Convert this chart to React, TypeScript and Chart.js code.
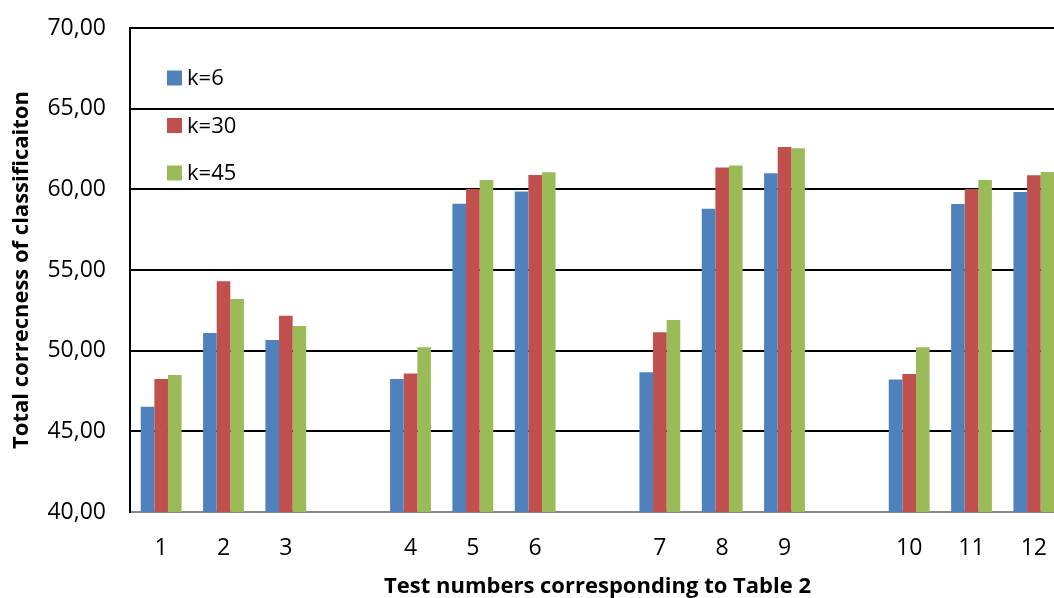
import React, { useEffect, useRef } from "react";
import { Chart, registerables } from "chart.js";

Chart.register(...registerables);

const categories = ["1", "2", "3", "", "4", "5", "6", "", "7", "8", "9", "", "10", "11", "12"];
const seriesLabels = ["k=6", "k=30", "k=45"];
const k6 = [46.53, 51.1, 50.66, null, 48.25, 59.11, 59.86, null, 48.66, 58.8, 61.0, null, 48.22, 59.09, 59.84];
const k30 = [48.25, 54.3, 52.17, null, 48.58, 60.02, 60.89, null, 51.14, 61.35, 62.63, null, 48.55, 60.02, 60.87];
const k45 = [48.49, 53.2, 51.53, null, 50.21, 60.58, 61.06, null, 51.9, 61.47, 62.55, null, 50.21, 60.58, 61.08];
const colors = ["#4F81BD", "#C0504D", "#9BBB59"];
const yMin = 40;
const yMax = 70;
const yStep = 5;
const xTitle = "Test numbers corresponding to Table 2";
const yTitle = "Total correcness of classificaiton";

const FONT = "'Open Sans', sans-serif";

const insideLegend = {
  id: "insideLegend",
  afterDraw(chart: any) {
    const ctx = chart.ctx;
    const area = chart.chartArea;
    ctx.save();
    chart.data.datasets.forEach((ds: any, i: number) => {
      const y = area.top + 50 + i * 47.5;
      ctx.fillStyle = ds.backgroundColor;
      ctx.fillRect(area.left + 37, y - 7.5, 15, 15);
      ctx.fillStyle = "#000";
      ctx.font = `22px ${FONT}`;
      ctx.textBaseline = "middle";
      ctx.textAlign = "left";
      ctx.fillText(ds.label, area.left + 57, y + 1);
    });
    ctx.restore();
  },
};

export default function App() {
  const ref = useRef<HTMLCanvasElement | null>(null);
  useEffect(() => {
    if (!ref.current) return;
    const data = [k6, k30, k45];
    const chart = new Chart(ref.current, {
      type: "bar",
      data: {
        labels: categories,
        datasets: seriesLabels.map((l, i) => ({
          label: l,
          data: data[i],
          backgroundColor: colors[i],
          borderWidth: 0,
          categoryPercentage: 0.655,
          barPercentage: 1.0,
        })),
      },
      options: {
        animation: false,
        responsive: true,
        maintainAspectRatio: false,
        layout: { padding: { top: 28, bottom: 0, left: 0, right: 0 } },
        plugins: {
          legend: { display: false },
          tooltip: { enabled: false },
        },
        scales: {
          x: {
            grid: { display: false, drawTicks: false },
            border: { display: true, color: "#888888", width: 2 },
            ticks: {
              color: "#000",
              font: { family: FONT, size: 23 },
              padding: 23,
              maxRotation: 0,
              autoSkip: false,
            },
            title: {
              display: true,
              text: xTitle,
              color: "#000",
              font: { family: FONT, size: 22, weight: "bold" },
              padding: { top: -12, bottom: -2 },
            },
          },
          y: {
            min: yMin,
            max: yMax,
            afterFit: (scale: any) => {
              scale.width = 130;
            },
            grid: {
              drawTicks: true,
              tickLength: 22,
              tickColor: "rgba(0,0,0,0)",
              color: (c: any) => (c.tick && c.tick.value === yMin ? "#888888" : "#000000"),
              lineWidth: 2,
            },
            border: { display: true, color: "#000", width: 2 },
            ticks: {
              stepSize: yStep,
              color: "#000",
              font: { family: FONT, size: 23 },
              padding: 2,
              callback: (v: any) => Number(v).toFixed(2).replace(".", ","),
            },
            title: {
              display: true,
              text: yTitle,
              color: "#000",
              font: { family: FONT, size: 22, weight: "bold" },
              padding: { top: 9, bottom: 0 },
            },
          },
        },
      },
      plugins: [insideLegend],
    });
    return () => chart.destroy();
  }, []);
  return (
    <div style={{ position: "fixed", left: 0, top: 0, width: 1054, height: 598, overflow: "hidden", background: "#fff" }}>
      <div style={{ position: "relative", width: 1070, height: 598 }}>
        <canvas ref={ref} />
      </div>
    </div>
  );
}
